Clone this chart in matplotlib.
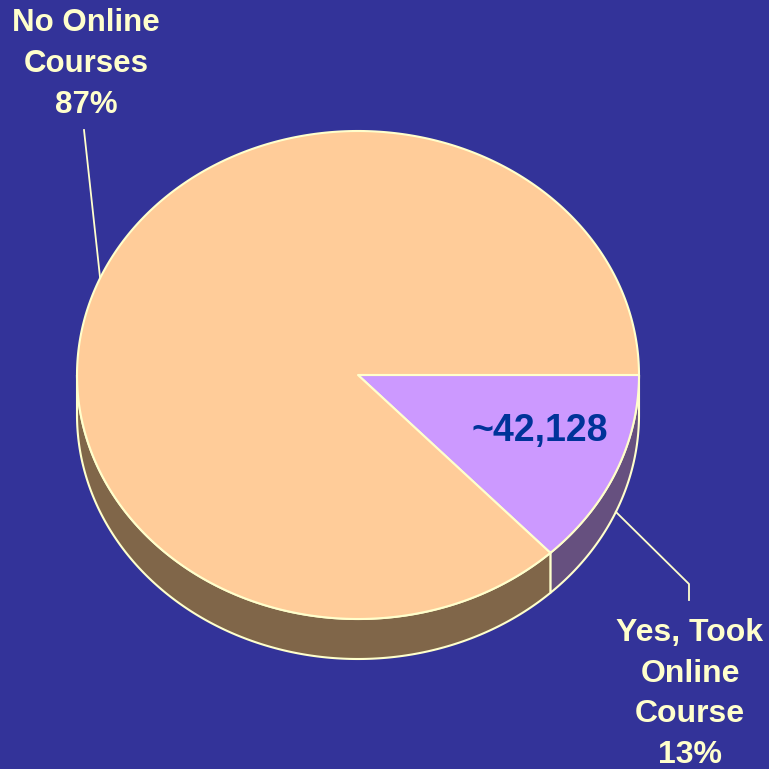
import matplotlib.pyplot as plt
from matplotlib.patches import Polygon
import numpy as np

# chart data
labels = ['Yes, Took\nOnline\nCourse', 'No Online\nCourses']
shares = [13, 87]
count_label = '~42,128'

bg = '#333399'
top_colors = ['#CC99FF', '#FFCC99']
side_colors = ['#66507F', '#806649']
edge = '#FFFFCC'


def main():
    fig = plt.figure(figsize=(7.69, 7.69), dpi=100)
    fig.patch.set_facecolor(bg)
    ax = fig.add_axes([0, 0, 1, 1])
    ax.set_facecolor(bg)
    ax.set_xlim(0, 769)
    ax.set_ylim(769, 0)
    ax.axis('off')

    cx, cy, rx, ry, depth = 358, 375, 281, 244, 40

    fr = np.array(shares, dtype=float) / sum(shares)
    bounds = np.concatenate([[0], np.cumsum(fr) * 360])

    def pt(t, dy=0):
        t = np.radians(t)
        return cx + rx * np.cos(t), cy + ry * np.sin(t) + dy

    # side walls (only front half is visible)
    for i in range(len(shares)):
        a0, a1 = bounds[i], min(bounds[i + 1], 180)
        if a0 >= 180:
            continue
        t = np.linspace(a0, a1, 200)
        xs, ys = pt(t)
        xb, yb = pt(t[::-1], depth)
        poly = np.column_stack([np.concatenate([xs, xb]), np.concatenate([ys, yb])])
        ax.add_patch(Polygon(poly, closed=True, facecolor=side_colors[i],
                             edgecolor=edge, lw=1.5, joinstyle='round'))

    # top face wedges
    for i in range(len(shares)):
        t = np.linspace(bounds[i], bounds[i + 1], 400)
        xs, ys = pt(t)
        poly = np.column_stack([np.concatenate([[cx], xs]), np.concatenate([[cy], ys])])
        ax.add_patch(Polygon(poly, closed=True, facecolor=top_colors[i],
                             edgecolor=edge, lw=1.5, joinstyle='round'))

    mids = (bounds[:-1] + bounds[1:]) / 2

    # label for small slice, leader from side bottom edge
    x0, y0 = pt(mids[0], depth)
    ax.plot([x0, 689, 689], [y0, 584, 600], color=edge, lw=1.3)
    ax.text(690, 694, labels[0] + '\n%d%%' % shares[0], color=edge,
            fontsize=23, fontweight='bold', family='Liberation Sans',
            ha='center', va='center', linespacing=1.46)

    # label for big slice
    x1, y1 = pt(mids[1])
    ax.plot([x1, 84], [y1, 130], color=edge, lw=1.3)
    ax.text(86, 64, labels[1] + '\n%d%%' % shares[1], color=edge,
            fontsize=22.5, fontweight='bold', family='Liberation Sans',
            ha='center', va='center', linespacing=1.46)

    ax.text(540, 431, count_label, color='#003399', fontsize=27,
            fontweight='bold', family='Liberation Sans', ha='center', va='center')

    plt.savefig('out.png', dpi=100, facecolor=bg)
    plt.close()


if __name__ == "__main__":
    main()
